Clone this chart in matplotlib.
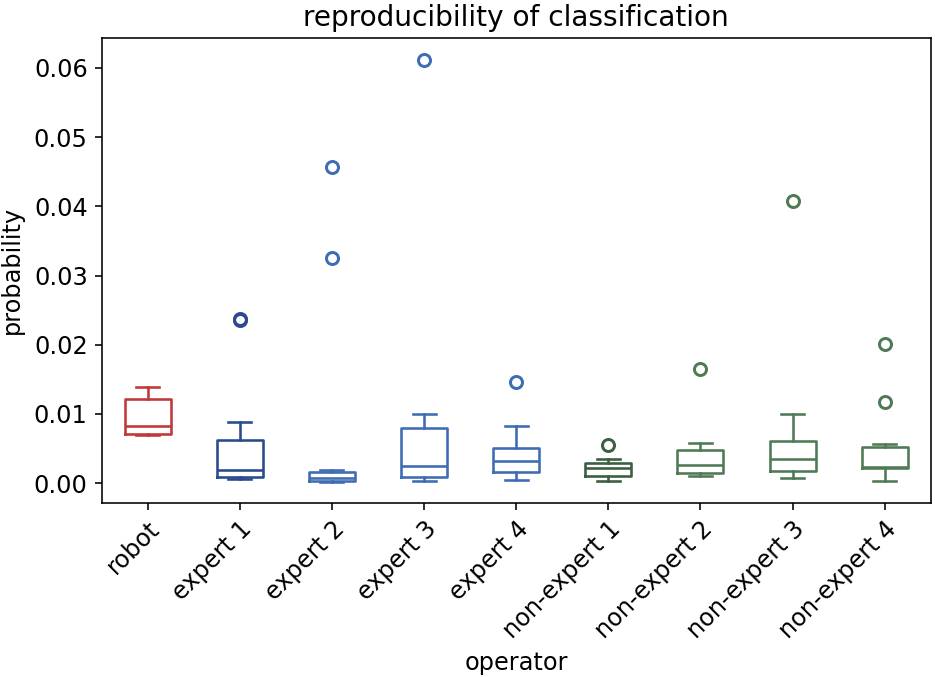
import matplotlib
matplotlib.use("Agg")
import matplotlib.pyplot as plt

operators = ["robot", "expert 1", "expert 2", "expert 3", "expert 4",
             "non-expert 1", "non-expert 2", "non-expert 3", "non-expert 4"]
whislo = [0.0069, 0.00058, 0.00010, 0.00033, 0.00039, 0.00024, 0.00101, 0.00077, 0.00024]
q1 = [0.00708, 0.00091, 0.00030, 0.00082, 0.00164, 0.00106, 0.00140, 0.00178, 0.00212]
med = [0.00829, 0.00193, 0.00070, 0.00250, 0.00318, 0.00212, 0.00265, 0.00343, 0.00231]
q3 = [0.01210, 0.00617, 0.00160, 0.00800, 0.00506, 0.00285, 0.00482, 0.00603, 0.00520]
whishi = [0.01390, 0.00877, 0.00195, 0.00993, 0.00824, 0.00343, 0.00574, 0.00993, 0.00564]
fliers = [[], [0.02362, 0.02372], [0.0325, 0.0457], [0.0612], [0.0146],
          [0.00554], [0.01643], [0.0407], [0.01176, 0.0201]]
colors = ["#c0393b", "#2b4c8c", "#3f6db3", "#3f6db3", "#3f6db3",
          "#3b5f40", "#507a56", "#507a56", "#507a56"]

plt.rcParams["font.family"] = ["DejaVu Sans"]
plt.rcParams["font.size"] = 12

fig = plt.figure(figsize=(935 / 144, 677 / 144), dpi=144)
ax = fig.add_axes([101.7 / 935, (677 - 503) / 677, (930.7 - 101.7) / 935, (503 - 37.7) / 677])

for i, name in enumerate(operators):
    st = dict(label=name, whislo=whislo[i], q1=q1[i], med=med[i], q3=q3[i],
              whishi=whishi[i], fliers=fliers[i])
    c = colors[i]
    ax.bxp([st], positions=[i + 1], widths=0.5, showfliers=True,
           boxprops=dict(color=c, linewidth=1.3),
           medianprops=dict(color=c, linewidth=1.3),
           whiskerprops=dict(color=c, linewidth=1.3),
           capprops=dict(color=c, linewidth=1.3),
           flierprops=dict(marker="o", markerfacecolor="none", markeredgecolor=c,
                           markeredgewidth=1.5, markersize=6))

ax.set_xlim(0.5, 9.5)
ax.set_ylim(-0.00289, 0.06438)
ax.set_xticks(range(1, 10))
ax.set_xticklabels(operators, rotation=45, ha="right", rotation_mode="anchor")
ax.set_yticks([0.0, 0.01, 0.02, 0.03, 0.04, 0.05, 0.06])
ax.set_yticklabels(["0.00", "0.01", "0.02", "0.03", "0.04", "0.05", "0.06"])
ax.tick_params(labelsize=12)
ax.set_xlabel("operator", fontsize=12)
ax.set_ylabel("probability", fontsize=12, labelpad=5)
ax.set_title("reproducibility of classification", fontsize=14)

fig.savefig("out.png", dpi=144)
